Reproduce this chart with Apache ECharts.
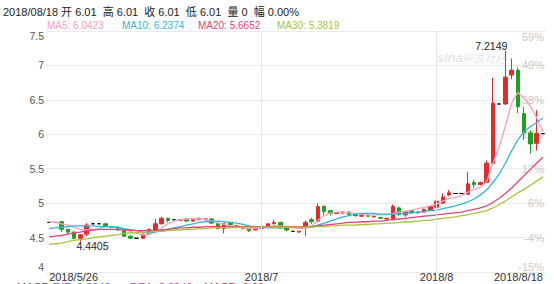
<!DOCTYPE html>
<html><head><meta charset="utf-8">
<script src="https://cdn.jsdelivr.net/npm/echarts@6/dist/echarts.min.js"></script>
<style>html,body{margin:0;padding:0;background:#fff}#c{width:554px;height:284px}</style>
</head><body><div id="c"></div>
<script>
// ---- data ----
const opens  = [4.72,4.72,4.73,4.62,4.58,4.49,4.55,4.70,4.70,4.70, 4.66,4.65,4.60,4.52,4.49,4.49,4.56,4.61,4.70,4.78,
                4.76,4.75,4.77,4.74,4.76,4.76,4.77,4.71,4.63,4.72, 4.66,4.66,4.64,4.61,4.63,4.66,4.70,4.72,4.64,4.59,
                4.58,4.65,4.76,4.74,4.95,4.89,4.85,4.86,4.87,4.83, 4.81,4.82,4.80,4.79,4.77,4.77,4.93,4.83,4.89,4.86,
                4.87,4.90,4.94,5.00,5.12,5.14,5.14,5.13,5.30,5.27, 5.30,5.58,6.44,6.44,6.86,6.93,6.30,6.02,5.87,6.01];
const closes = [4.72,4.72,4.62,4.58,4.49,4.54,4.68,4.70,4.70,4.66, 4.65,4.61,4.52,4.49,4.49,4.55,4.62,4.70,4.78,4.75,
                4.76,4.76,4.74,4.77,4.78,4.77,4.71,4.63,4.70,4.69, 4.67,4.63,4.60,4.62,4.65,4.70,4.72,4.64,4.61,4.59,
                4.59,4.72,4.73,4.95,4.88,4.85,4.86,4.87,4.83,4.82, 4.82,4.81,4.81,4.78,4.78,4.95,4.84,4.88,4.86,4.87,
                4.91,4.95,5.03,5.09,5.15,5.14,5.14,5.28,5.27,5.30, 5.58,6.45,6.44,6.83,6.93,6.40,6.02,5.86,6.01,6.01];
const lows   = [4.72,4.72,4.58,4.55,4.47,4.4405,4.52,4.70,4.70,4.65, 4.64,4.60,4.51,4.48,4.49,4.48,4.55,4.60,4.69,4.72,
                4.76,4.74,4.73,4.73,4.75,4.75,4.70,4.62,4.56,4.68, 4.64,4.62,4.58,4.60,4.62,4.65,4.69,4.63,4.59,4.59,
                4.57,4.52,4.70,4.72,4.83,4.82,4.85,4.84,4.82,4.80, 4.80,4.80,4.79,4.77,4.76,4.75,4.81,4.80,4.85,4.85,
                4.86,4.89,4.93,4.99,5.10,5.14,5.14,5.12,5.22,5.26, 5.29,5.57,6.44,6.43,6.80,6.31,5.92,5.72,5.76,6.01];
const highs  = [4.72,4.72,4.74,4.63,4.59,4.55,4.71,4.70,4.70,4.71, 4.67,4.66,4.61,4.53,4.49,4.56,4.63,4.77,4.80,4.79,
                4.76,4.77,4.78,4.78,4.79,4.78,4.78,4.72,4.71,4.73, 4.68,4.67,4.65,4.63,4.66,4.71,4.76,4.73,4.65,4.59,
                4.60,4.75,4.79,5.00,4.97,4.90,4.87,4.88,4.88,4.84, 4.84,4.83,4.82,4.80,4.79,4.98,4.95,4.89,4.90,4.88,
                4.92,4.96,5.05,5.14,5.19,5.14,5.14,5.45,5.34,5.31, 5.62,6.82,6.44,7.2149,7.10,6.97,6.40,6.05,6.35,6.01];
const volumeLast = 0;
const changeLast = '0.00%';
const lastDate = '2018/08/18';

const ma5  = [4.73,4.72,4.70,4.68,4.65,4.62,4.61,4.61,4.63,4.66, 4.66,4.64,4.62,4.59,4.56,4.54,4.55,4.58,4.64,4.70,
              4.74,4.76,4.77,4.77,4.77,4.76,4.74,4.71,4.69,4.67, 4.66,4.64,4.63,4.63,4.64,4.66,4.67,4.67,4.66,4.64,
              4.63,4.63,4.67,4.75,4.82,4.86,4.87,4.87,4.86,4.85, 4.84,4.83,4.83,4.83,4.83,4.85,4.87,4.88,4.90,4.92,
              4.94,4.96,4.99,5.03,5.07,5.08,5.11,5.16,5.20,5.23, 5.31,5.58,5.81,6.12,6.45,6.61,6.52,6.41,6.24,6.0423];
const ma10 = [4.63,4.64,4.65,4.66,4.67,4.67,4.67,4.67,4.66,4.66, 4.66,4.65,4.63,4.61,4.60,4.58,4.57,4.58,4.60,4.62,
              4.64,4.66,4.68,4.70,4.72,4.73,4.74,4.74,4.73,4.72, 4.71,4.69,4.67,4.66,4.65,4.64,4.64,4.64,4.65,4.65,
              4.65,4.65,4.66,4.68,4.71,4.74,4.77,4.80,4.82,4.84, 4.85,4.85,4.85,4.84,4.84,4.84,4.84,4.85,4.86,4.87,
              4.88,4.89,4.90,4.92,4.94,4.96,4.99,5.02,5.06,5.12, 5.19,5.30,5.42,5.58,5.76,5.92,6.04,6.11,6.17,6.2374];
const ma20 = [4.51,4.52,4.53,4.55,4.57,4.58,4.60,4.61,4.62,4.62, 4.62,4.62,4.61,4.61,4.60,4.60,4.60,4.60,4.61,4.62,
              4.63,4.64,4.64,4.65,4.65,4.66,4.66,4.66,4.66,4.66, 4.66,4.66,4.66,4.66,4.66,4.66,4.66,4.66,4.66,4.66,
              4.66,4.66,4.66,4.67,4.68,4.69,4.70,4.71,4.72,4.72, 4.73,4.73,4.74,4.74,4.75,4.76,4.77,4.78,4.79,4.80,
              4.81,4.82,4.83,4.84,4.85,4.86,4.87,4.89,4.91,4.93, 4.96,5.01,5.07,5.14,5.22,5.31,5.40,5.49,5.58,5.6652];
const ma30 = [4.40,4.41,4.42,4.44,4.46,4.47,4.48,4.50,4.51,4.52, 4.53,4.54,4.56,4.57,4.57,4.58,4.58,4.59,4.59,4.60,
              4.61,4.61,4.62,4.62,4.63,4.63,4.64,4.64,4.64,4.64, 4.65,4.65,4.65,4.65,4.65,4.65,4.65,4.65,4.65,4.65,
              4.65,4.65,4.65,4.66,4.66,4.67,4.67,4.68,4.68,4.68, 4.69,4.69,4.70,4.70,4.71,4.71,4.72,4.73,4.73,4.74,
              4.75,4.75,4.77,4.78,4.79,4.80,4.82,4.83,4.85,4.87, 4.89,4.93,4.98,5.03,5.09,5.15,5.20,5.26,5.32,5.3819];

const xTickIndex  = [0, 34, 62, 79];
const xTickLabels = ['2018/5/26', '2018/7', '2018/8', '2018/8/18'];
const monthLineIndex = [34, 62];
const priceTicks = [4, 4.5, 5, 5.5, 6, 6.5, 7, 7.5];
const pctTickLabels = ['-15%', '-4%', '6%', '17%', '28%', '38%', '49%', '59%'];

// ---- chart ----
const FONT = '"Liberation Sans", Arial, "Noto Sans CJK SC", sans-serif';
const UP = '#e42a2a', DOWN = '#1f9f1f';
const categories = closes.map((_, i) => String(i));
const candleData = opens.map((o, i) => {
  const v = [o, closes[i], lows[i], highs[i]];
  const flat = o === closes[i] && lows[i] === highs[i];
  return flat ? { value: v, itemStyle: { color: '#000', color0: '#000', borderColor: '#000', borderColor0: '#000', borderColorDoji: '#000' } } : v;
});
const last = closes.length - 1;
const titleText = lastDate + ' 开 ' + opens[last].toFixed(2) + '  高 ' + highs[last].toFixed(2) +
  '  收 ' + closes[last].toFixed(2) + '  低 ' + lows[last].toFixed(2) + '  量 ' + volumeLast + '  幅 ' + changeLast;

const maDefs = [
  { name: 'MA5', data: ma5, color: '#f4a0c2', left: 47 },
  { name: 'MA10', data: ma10, color: '#33b5d8', left: 122 },
  { name: 'MA20', data: ma20, color: '#e2447c', left: 198 },
  { name: 'MA30', data: ma30, color: '#a8c43c', left: 277 }
];

const chart = echarts.init(document.getElementById('c'), null, { renderer: 'svg' });
chart.setOption({
  animation: false,
  backgroundColor: '#fff',
  textStyle: { fontFamily: FONT },
  grid: { left: 46, right: 8, top: 31, bottom: 12, containLabel: false },
  xAxis: {
    type: 'category', data: categories, boundaryGap: true,
    axisLine: { show: false }, axisTick: { show: false },
    splitLine: { show: false },
    axisLabel: {
      interval: (i) => xTickIndex.indexOf(i) >= 0,
      formatter: (v, i) => xTickLabels[xTickIndex.indexOf(Number(v))] || '',
      color: '#333', fontSize: 11, margin: -1, fontFamily: FONT,
      alignMinLabel: 'left', alignMaxLabel: 'right', showMinLabel: true, showMaxLabel: true
    }
  },
  yAxis: [
    {
      type: 'value', min: priceTicks[0], max: priceTicks[priceTicks.length - 1], interval: 0.5,
      axisLine: { show: false }, axisTick: { show: false },
      splitLine: { show: true, lineStyle: { color: '#ebebeb', width: 1 } },
      axisLabel: { color: '#555', fontSize: 10.5, margin: 2, fontFamily: FONT,
        verticalAlignMinLabel: 'bottom', verticalAlignMaxLabel: 'top' }
    },
    {
      type: 'value', position: 'right', min: priceTicks[0], max: priceTicks[priceTicks.length - 1], interval: 0.5,
      axisLine: { show: false }, axisTick: { show: false }, splitLine: { show: false },
      axisLabel: { inside: true, color: '#c9c9c9', fontSize: 11, margin: 2, fontFamily: FONT,
        formatter: (v) => pctTickLabels[Math.round((v - priceTicks[0]) / 0.5)],
        verticalAlignMinLabel: 'bottom', verticalAlignMaxLabel: 'top' }
    }
  ],
  graphic: [
    { type: 'text', left: 3, top: 6, style: { text: titleText, font: '11px ' + FONT, fill: '#222' } },
    ...maDefs.map(m => ({ type: 'text', left: m.left, top: 20,
      style: { text: m.name + ': ' + m.data[m.data.length - 1].toFixed(4), font: '10px ' + FONT, fill: m.color } })),
    { type: 'text', left: 437, top: 51, z: 0, style: { text: 'sina', font: 'italic bold 13px ' + FONT, fill: 'rgba(0,0,0,0.12)' } },
    { type: 'text', left: 462, top: 52, z: 0, style: { text: '新浪财经', font: 'italic 11px "Noto Sans CJK SC", sans-serif', fill: 'rgba(0,0,0,0.12)' } },
    { type: 'text', left: 17, top: 281, style: { text: 'MACD', font: '11px ' + FONT, fill: '#555' } },
    { type: 'text', left: 53, top: 281, style: { text: 'DIF: 0.3648', font: '11px ' + FONT, fill: '#3d5fd0' } },
    { type: 'text', left: 130, top: 281, style: { text: 'DEA: 0.3346', font: '11px ' + FONT, fill: '#c23cc2' } },
    { type: 'text', left: 204, top: 281, style: { text: 'MACD: 0.06', font: '11px ' + FONT, fill: '#e03030' } }
  ],
  series: [
    {
      type: 'line', data: [], z: 1, silent: true,
      markLine: {
        silent: true, symbol: ['none', 'none'], label: { show: false },
        lineStyle: { color: '#e4e4e4', type: 'solid', width: 1 },
        data: monthLineIndex.map(i => ({ xAxis: categories[i] }))
      }
    },
    {
      type: 'candlestick', data: candleData, barWidth: 4, z: 2, clip: false,
      itemStyle: { color: UP, color0: DOWN, borderColor: UP, borderColor0: DOWN, borderWidth: 1 },
      markPoint: {
        symbol: 'circle', symbolSize: 0,
        data: [
          { type: 'max', valueDim: 'highest', label: { position: 'left', distance: -2, offset: [0, -5] } },
          { type: 'min', valueDim: 'lowest', label: { position: 'right', distance: -4, offset: [0, 4] } }
        ],
        label: { show: true, color: '#222', fontSize: 10.5, fontFamily: FONT, formatter: (p) => String(p.value) }
      }
    },
    ...maDefs.map(m => ({
      type: 'line', name: m.name, data: m.data, symbol: 'none', z: 3, silent: true,
      lineStyle: { color: m.color, width: 1.3 }
    }))
  ]
});
</script>
</body></html>
